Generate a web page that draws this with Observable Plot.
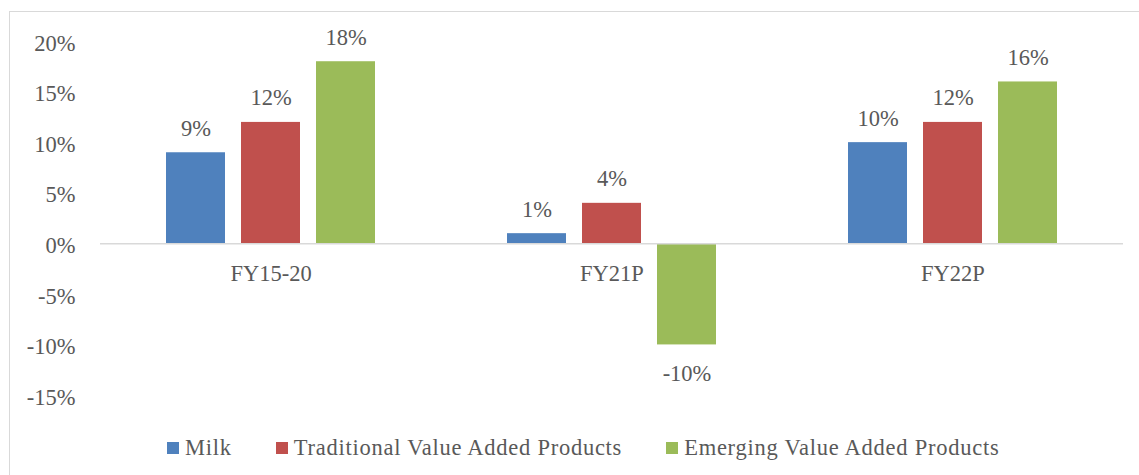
<!DOCTYPE html>
<html>
<head>
<meta charset="utf-8">
<script src="https://cdn.jsdelivr.net/npm/d3@7"></script>
<script src="https://cdn.jsdelivr.net/npm/@observablehq/plot@0.6"></script>
<style>
  html, body { margin: 0; padding: 0; background: #fff; }
  #wrap { position: relative; width: 1139px; height: 475px; overflow: hidden; font-family: "Liberation Serif", serif; }
  #border { position: absolute; left: 9px; top: 11px; width: 1140px; height: 470px; border: 1px solid #d9d9d9; box-sizing: border-box; }
  #chart { position: absolute; left: 0; top: 0; }
  #legend { position: absolute; left: 167px; top: 431px; }
  .lg-swatch { margin-right: 44px !important; letter-spacing: 0.75px; }
  .lg-swatch > svg { margin-right: 6px !important; }
</style>
</head>
<body>
<div id="wrap">
  <div id="border"></div>
  <div id="chart"></div>
  <div id="legend"></div>
</div>
<script>
const categories = ["FY15-20", "FY21P", "FY22P"];
const series = ["Milk", "Traditional Value Added Products", "Emerging Value Added Products"];
const milk = [9, 1, 10];
const traditional = [12, 4, 12];
const emerging = [18, -10, 16];
const colors = ["#4f81bd", "#c0504d", "#9bbb59"];
const yTicks = [-15, -10, -5, 0, 5, 10, 15, 20];

const valuesBySeries = [milk, traditional, emerging];
const data = categories.flatMap((c, i) =>
  series.map((s, j) => ({category: c, series: s, value: valuesBySeries[j][i]}))
);

const textColor = "#595959";
const FONT = "Liberation Serif";
const FS = "22.5px";
const fmt = d => d + "%";

const yAxisMark = Plot.axisY
  ? [Plot.axisY(yTicks, {tickSize: 0, tickPadding: 25, tickFormat: fmt, dy: 2, label: null, fill: textColor, fontSize: 22.5})]
  : [];

const chart = Plot.plot({
  width: 1139,
  height: 425,
  marginTop: 41,
  marginBottom: 30,
  marginLeft: 100,
  marginRight: 16,
  style: {fontSize: FS, color: textColor, background: "transparent"},
  fx: {domain: categories, padding: 0, axis: null},
  x: {domain: series, axis: null, paddingInner: 16 / 76, paddingOuter: 0.849},
  y: {domain: [-15, 20], ticks: yTicks, tickFormat: fmt, tickSize: 0, tickPadding: 25, label: null, axis: Plot.axisY ? null : "left"},
  color: {domain: series, range: colors},
  marks: [
    ...yAxisMark,
    Plot.barY(data, {fx: "category", x: "series", y: "value", fill: "series"}),
    Plot.ruleY([0], {stroke: "#d9d9d9", strokeWidth: 1.5}),
    Plot.text(data.filter(d => d.value >= 0), {fx: "category", x: "series", y: "value", text: d => fmt(d.value), lineAnchor: "bottom", dy: -17, fill: textColor}),
    Plot.text(data.filter(d => d.value < 0), {fx: "category", x: "series", y: "value", text: d => fmt(d.value), lineAnchor: "top", dy: 20, fill: textColor}),
    Plot.text(categories, {fx: d => d, y: () => 0, text: d => d, lineAnchor: "top", dy: 21, fill: textColor})
  ]
});
chart.setAttribute("font-family", FONT);
chart.style.fontFamily = FONT;
chart.querySelectorAll("g, text").forEach(el => {
  if (el.hasAttribute("font-family")) el.setAttribute("font-family", FONT);
  if (el.hasAttribute("font-size")) el.setAttribute("font-size", 22.5);
  if (el.tagName === "text") el.style.fontFamily = FONT;
});
document.getElementById("chart").appendChild(chart);

const legend = Plot.legend({
  color: {domain: series, range: colors},
  legend: "swatches",
  swatchSize: 12,
  className: "lg",
  style: {fontSize: FS, color: textColor, marginLeft: "0px"}
});
legend.style.fontFamily = FONT;
legend.querySelectorAll("*").forEach(el => { if (el.tagName !== "svg" && el.tagName !== "rect") el.style.fontFamily = FONT; });
document.getElementById("legend").appendChild(legend);
</script>
</body>
</html>
